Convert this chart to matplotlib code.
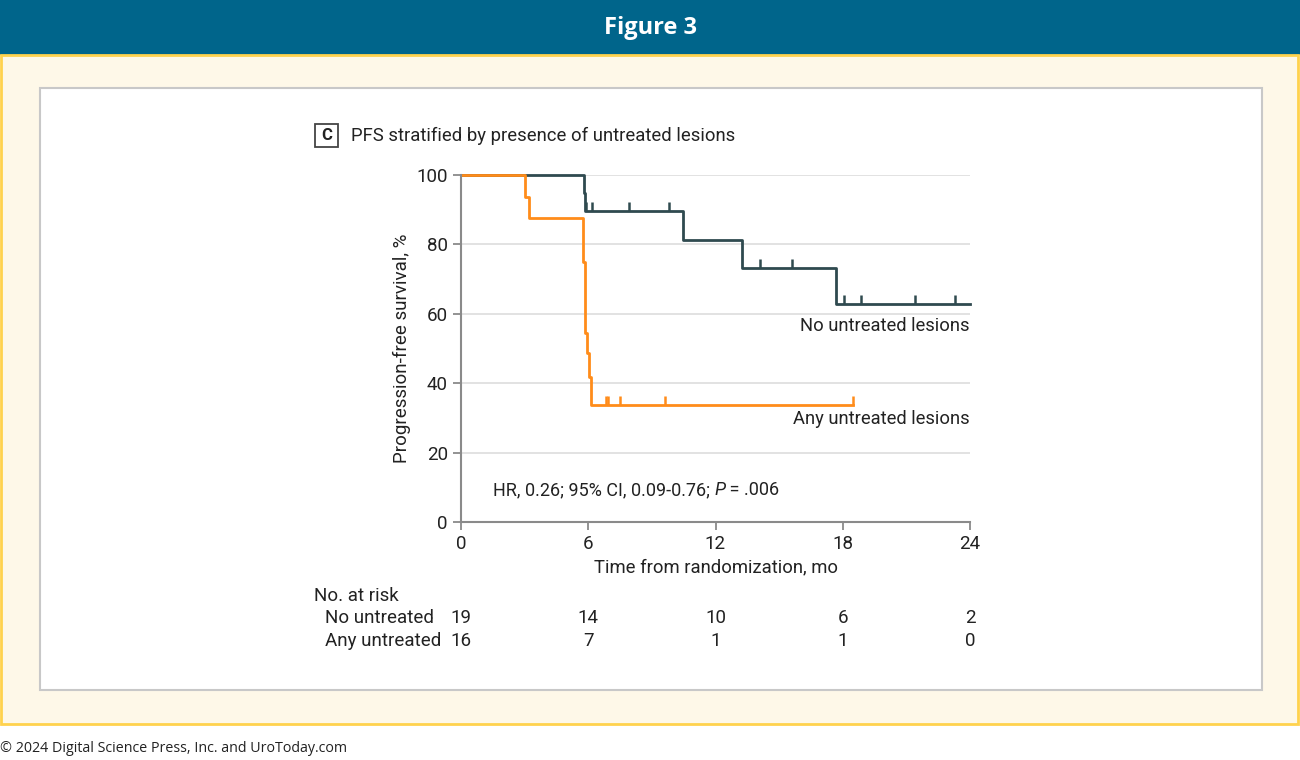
import matplotlib.pyplot as plt
import numpy as np
from matplotlib.patches import Rectangle
from matplotlib.path import Path

# Data
no_times = [0, 5.8, 5.85, 10.45, 13.25, 17.7, 24]
no_surv = [100, 94.7, 89.5, 81.4, 73.3, 62.8, 62.8]
no_censor = [5.9, 6.2, 7.9, 9.8, 14.1, 15.6, 18.05, 18.85, 21.4, 23.3]

any_times = [0, 3.0, 3.2, 5.77, 5.87, 5.96, 6.05, 6.12, 18.5]
any_surv = [100, 93.75, 87.5, 75.0, 54.5, 48.7, 41.9, 33.7, 33.7]
any_censor = [6.85, 6.92, 7.5, 9.6, 18.5]

risk_times = [0, 6, 12, 18, 24]
risk_no = [19, 14, 10, 6, 2]
risk_any = [16, 7, 1, 1, 0]

dark = "#2f4a4f"
orange = "#ff8c1a"
W, H = 1300, 760
FONT = ["Liberation Sans Narrow", "Roboto", "DejaVu Sans"]
plt.rcParams["font.family"] = FONT


def px(x, y):
    return x / W, 1 - y / H


def surv_at(times, surv, t):
    i = np.searchsorted(times, t, side="right") - 1
    return surv[i]


fig = plt.figure(figsize=(13, 7.6), dpi=100)
fig.patch.set_facecolor("white")

# frame / background
fig.add_artist(Rectangle(px(0, 55), 1, 55 / H, transform=fig.transFigure,
                         facecolor="#00658b", edgecolor="none", zorder=-10))
fig.add_artist(Rectangle(px(1, 724), 1297 / W, 669 / H, transform=fig.transFigure,
                         facecolor="#fef8e8", edgecolor="#ffd24d", linewidth=2, zorder=-10))
fig.add_artist(Rectangle(px(40, 690), 1222 / W, 602 / H, transform=fig.transFigure,
                         facecolor="white", edgecolor="#c8c8c8", linewidth=1.5, zorder=-9))
fig.text(*px(650, 28), "Figure 3", color="white", fontsize=17, fontweight="bold",
         ha="center", va="center", family=["Open Sans", "DejaVu Sans"])
fig.text(*px(0, 749), "\u00a9 2024 Digital Science Press, Inc. and UroToday.com",
         fontsize=10.3, color="#222222", ha="left", va="center",
         family=["Open Sans", "DejaVu Sans"])

# Main axes
ax = fig.add_axes([461 / W, 1 - 522 / H, 509 / W, 347 / H])
ax.set_facecolor("none")
ax.set_xlim(0, 24)
ax.set_ylim(0, 100)
ax.set_xticks([0, 6, 12, 18, 24])
ax.set_yticks([0, 20, 40, 60, 80, 100])
ax.grid(axis="y", color="#dddddd", linewidth=1.2)
ax.set_axisbelow(True)
for s in ["top", "right"]:
    ax.spines[s].set_visible(False)
for s in ["left", "bottom"]:
    ax.spines[s].set_color("#8a8a8a")
    ax.spines[s].set_linewidth(1.5)
ax.tick_params(colors="#8a8a8a", labelcolor="#222222", labelsize=13.5, length=6, width=1.3)

tick_up = Path([(0, 0), (0, 1)])

ax.step(no_times, no_surv, where="post", color=dark, linewidth=2, clip_on=False)
ax.plot(no_censor, [surv_at(no_times, no_surv, t) for t in no_censor], linestyle="none",
        marker=tick_up, markersize=13, markeredgewidth=1.8, color=dark, clip_on=False)
ax.step(any_times, any_surv, where="post", color=orange, linewidth=2, clip_on=False)
ax.plot(any_censor, [surv_at(any_times, any_surv, t) for t in any_censor], linestyle="none",
        marker=tick_up, markersize=13, markeredgewidth=1.8, color=orange, clip_on=False)

ax.text(24, 56.5, "No untreated lesions", ha="right", va="center", fontsize=13.2, color="#222222")
ax.text(24, 29.8, "Any untreated lesions", ha="right", va="center", fontsize=13.2, color="#222222")

hr = ax.text(1.5, 9.2, "HR, 0.26; 95% CI, 0.09-0.76; ", ha="left", va="center",
             fontsize=13, color="#222222")
p = ax.annotate("P", xy=(1, 0), xycoords=hr, ha="left", va="bottom", fontsize=13,
                color="#222222", style="italic")
ax.annotate(" = .006", xy=(1, 0), xycoords=p, ha="left", va="bottom", fontsize=13,
            color="#222222")

ax.set_xlabel("Time from randomization, mo", fontsize=13.3, color="#222222", labelpad=4)
ax.set_ylabel("Progression-free survival, %", fontsize=13.5, color="#222222")
ax.yaxis.set_label_coords(-0.098, 0.5)

# Panel title
fig.add_artist(Rectangle(px(315, 147), 23 / W, 23 / H, transform=fig.transFigure,
                         facecolor="white", edgecolor="#444444", linewidth=1.3))
fig.text(*px(326.5, 136), "C", ha="center", va="center", fontsize=12, fontweight="bold",
         color="#222222")
fig.text(*px(351, 136), "PFS stratified by presence of untreated lesions", ha="left",
         va="center", fontsize=13.3, color="#222222")

# Number at risk table
fig.text(*px(314, 596), "No. at risk", ha="left", va="center", fontsize=13.5, color="#222222")
fig.text(*px(325, 618), "No untreated", ha="left", va="center", fontsize=13.5, color="#222222")
fig.text(*px(325, 641), "Any untreated", ha="left", va="center", fontsize=13.5, color="#222222")
for t, a, b in zip(risk_times, risk_no, risk_any):
    ax.annotate(str(a), xy=(t, 0), xycoords=("data", "figure fraction"),
                xytext=(t, 1 - 618 / H), textcoords=("data", "figure fraction"),
                ha="center", va="center", fontsize=13.5, color="#222222")
    ax.annotate(str(b), xy=(t, 0), xycoords=("data", "figure fraction"),
                xytext=(t, 1 - 641 / H), textcoords=("data", "figure fraction"),
                ha="center", va="center", fontsize=13.5, color="#222222")

fig.savefig("out.png", dpi=100)
